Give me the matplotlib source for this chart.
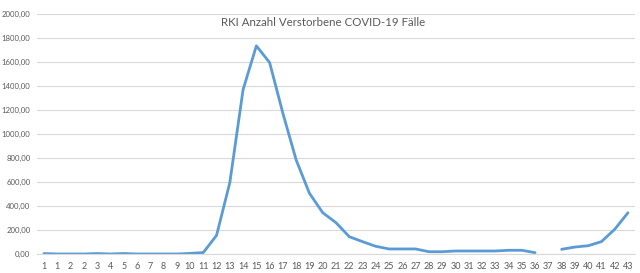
import numpy as np
import matplotlib
matplotlib.use("Agg")
import matplotlib.pyplot as plt
from matplotlib.ticker import FuncFormatter, MultipleLocator

weeks = ["1", "1", "2", "2", "3", "4", "5", "6", "7", "8", "9", "10", "11", "12", "13",
         "14", "15", "16", "17", "18", "19", "20", "21", "22", "23", "24", "25", "26",
         "27", "28", "29", "30", "31", "32", "33", "34", "35", "36", "37", "38", "39",
         "40", "41", "42", "43"]
deaths = [4, 0, 0, 0, 4, 0, 4, 0, 0, 0, 0, 5, 12, 155, 595, 1370, 1735, 1595, 1172,
          783, 506, 344, 261, 144, 103, 64, 42, 42, 42, 19, 19, 25, 25, 25, 25, 31,
          31, 11, np.nan, 39, 58, 69, 103, 206, 344]
title = "RKI Anzahl Verstorbene COVID-19 Fälle"

plt.rcParams['font.family'] = ['Lato', 'DejaVu Sans']

fig = plt.figure(figsize=(6.4, 2.73), dpi=100)
ax = fig.add_axes([0.0584, 0.0696, 0.9332, 0.8791])

x = np.arange(len(weeks))
ax.plot(x, deaths, color="#5B9BD5", lw=2.0, solid_capstyle="round", solid_joinstyle="round")

ax.set_xlim(-0.5, len(weeks) - 0.5)
ax.set_ylim(0, 2000)
ax.yaxis.set_major_locator(MultipleLocator(200))
ax.yaxis.set_major_formatter(FuncFormatter(lambda v, p: f"{v:.2f}".replace(".", ",")))
ax.set_xticks(x)
ax.set_xticklabels(weeks)
ax.tick_params(axis="x", length=0, labelsize=6.5, colors="#595959", pad=6)
ax.tick_params(axis="y", length=0, labelsize=5.6, colors="#595959", pad=5)
ax.grid(axis="y", color="#D9D9D9", lw=0.8)
ax.set_axisbelow(True)
for s in ["top", "right", "left"]:
    ax.spines[s].set_visible(False)
ax.spines["bottom"].set_color("#D9D9D9")
ax.spines["bottom"].set_linewidth(0.8)

fig.text(323.5 / 640, 1 - 22 / 273, title, ha="center", va="center", fontsize=8.3, color="#595959")

fig.savefig("out.png", dpi=100)
